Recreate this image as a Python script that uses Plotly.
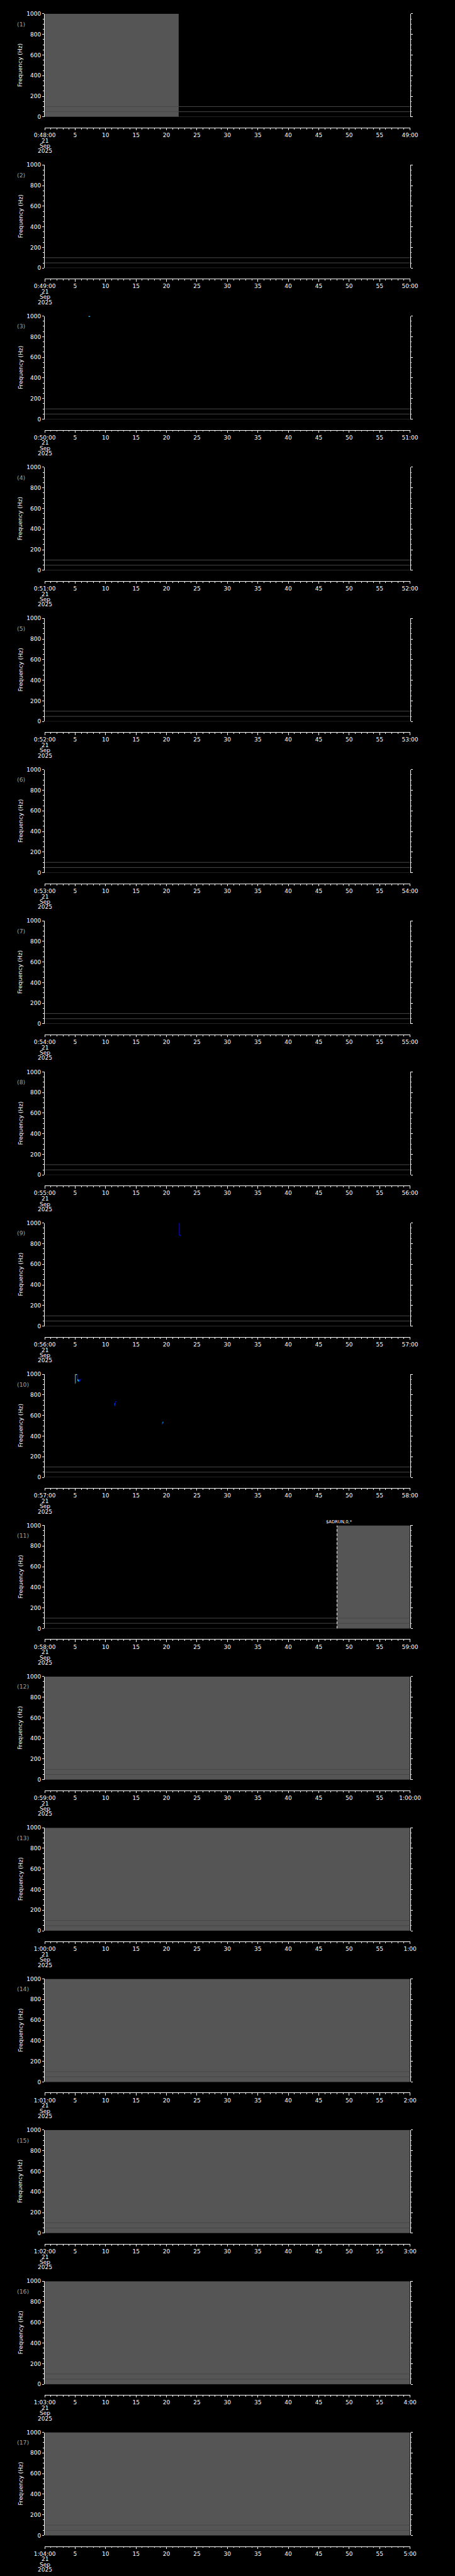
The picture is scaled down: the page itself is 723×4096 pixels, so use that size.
import plotly.graph_objects as go

# ---------------- data ----------------
N_PANELS = 17
panel_starts = ["0:48:00", "0:49:00", "0:50:00", "0:51:00", "0:52:00", "0:53:00",
                "0:54:00", "0:55:00", "0:56:00", "0:57:00", "0:58:00", "0:59:00",
                "1:00:00", "1:01:00", "1:02:00", "1:03:00", "1:04:00"]
panel_ends = ["49:00", "50:00", "51:00", "52:00", "53:00", "54:00", "55:00", "56:00",
              "57:00", "58:00", "59:00", "1:00:00", "1:00", "2:00", "3:00", "4:00", "5:00"]
mid_tick_secs = [5, 10, 15, 20, 25, 30, 35, 40, 45, 50, 55]
date_lines = ["21", "Sep", "2025"]
freq_range = [0, 1000]
ref_lines_hz = [0, 50, 100]

# grey coverage blocks: panel number, start second, end second
cov_panel = [1, 11, 12, 13, 14, 15, 16, 17]
cov_start = [0, 48, 0, 0, 0, 0, 0, 0]
cov_end = [22.0, 60, 60, 60, 60, 60, 60, 60]

# event marker
event_panel = 11
event_time = 48.0
event_label = "$ADRUN,0,*"
event_label_time = 46.0

# pitch-track segments: panel, t0, f0, t1, f1, colour, width
seg_panel = [3, 3,
             9, 9, 9,
             10, 10, 10, 10, 10, 10, 10, 10, 10, 10, 10, 10,
             10, 10, 10, 10, 10,
             10, 10, 10, 10]
seg_t0 = [7.21, 7.40,
          22.08, 22.12, 22.12,
          5.02, 5.02, 5.10, 5.27, 5.41, 5.41, 5.45, 5.45, 5.56, 5.73, 5.73, 5.00,
          11.47, 11.49, 11.49, 11.60, 11.60,
          19.27, 19.30, 19.30, 19.38]
seg_f0 = [997, 997,
          1000, 1000, 880,
          912, 999, 999, 999, 999, 950, 950, 936, 932, 932, 950, 912,
          695, 695, 718, 718, 735,
          515, 515, 530, 533]
seg_t1 = [7.40, 7.53,
          22.12, 22.12, 22.31,
          5.02, 5.10, 5.27, 5.41, 5.41, 5.45, 5.45, 5.56, 5.73, 5.73, 5.96, 5.04,
          11.49, 11.49, 11.60, 11.60, 11.78,
          19.30, 19.30, 19.38, 19.47]
seg_f1 = [997, 997,
          1000, 880, 880,
          999, 999, 999, 999, 950, 950, 936, 936, 932, 950, 950, 912,
          695, 718, 718, 735, 735,
          515, 530, 533, 533]
seg_color = ["#30e0f0", "#0030ff",
             "#0000ff", "#0000ff", "#0000ff",
             "#00b8ff", "#00d0ff", "#d8ff30", "#0030ff", "#0000ff", "#00e8ff", "#00e8ff",
             "#00ffff", "#0040ff", "#0000ff", "#0000d0", "#00b8ff",
             "#0040ff", "#0040ff", "#0030ff", "#0000ff", "#0000d0",
             "#0030ff", "#0030ff", "#0030ff", "#00c8ff"]
seg_width = [2, 1.5,
             1.2, 1.2, 1.5,
             1.2, 1.5, 2, 1.2, 1.2, 1.5, 1.5, 2, 1.5, 1.2, 1.2, 2.5,
             2, 1.2, 1.2, 1.2, 1.2,
             2, 1.2, 1.2, 2.5]

# ---------------- geometry (reference pixels -> paper) ----------------
REF_W, REF_H = 1024.0, 5802.0
W, H = 723, 4096
P = REF_H / N_PANELS
X_LEFT, X_RIGHT = 80.5, 944.5
Y_TOP, Y_BOT, X_AXIS_Y = 24.0, 256.8, 281.0


def py(ref_y):
    return 1 - ref_y / REF_H


def px(ref_x):
    return ref_x / REF_W


FONT = "DejaVu Sans"
GREY_FILL = "#555555"
LINE_GREY = "#474747"

fig = go.Figure()
layout = dict(
    width=W, height=H, autosize=False,
    margin=dict(l=0, r=0, t=0, b=0, pad=0),
    paper_bgcolor="black", plot_bgcolor="black",
    showlegend=False,
    font=dict(family=FONT, color="white", size=9),
)
annotations = []

for i in range(N_PANELS):
    n = i + 1
    xa = "x" if n == 1 else f"x{n}"
    ya = "y" if n == 1 else f"y{n}"
    xkey = "xaxis" if n == 1 else f"xaxis{n}"
    ykey = "yaxis" if n == 1 else f"yaxis{n}"
    top = i * P

    # coverage blocks
    for pn, t0, t1 in zip(cov_panel, cov_start, cov_end):
        if pn == n:
            fig.add_trace(go.Scatter(
                x=[t0, t1, t1, t0, t0], y=[freq_range[0], freq_range[0], freq_range[1], freq_range[1], freq_range[0]],
                fill="toself", fillcolor=GREY_FILL, line=dict(width=0), mode="lines",
                xaxis=xa, yaxis=ya, hoverinfo="skip"))
    # reference lines
    for f in ref_lines_hz:
        fig.add_trace(go.Scatter(x=[0, 60], y=[f, f], mode="lines",
                                 line=dict(color=LINE_GREY, width=1),
                                 xaxis=xa, yaxis=ya, hoverinfo="skip"))
    # event
    if n == event_panel:
        fig.add_trace(go.Scatter(x=[event_time, event_time], y=[freq_range[0], freq_range[1]],
                                 mode="lines", line=dict(color="white", width=1, dash="4px,3px"),
                                 xaxis=xa, yaxis=ya, hoverinfo="skip"))
        annotations.append(dict(text=event_label, xref=xa, yref="paper", x=event_label_time,
                                y=py(top + 15.8), xanchor="left", yanchor="middle", showarrow=False,
                                font=dict(family=FONT, size=6.8, color="white")))
    # tracks
    for pn, t0, f0, t1, f1, c, w in zip(seg_panel, seg_t0, seg_f0, seg_t1, seg_f1, seg_color, seg_width):
        if pn == n:
            fig.add_trace(go.Scatter(x=[t0, t1], y=[f0, f1], mode="lines",
                                     line=dict(color=c, width=w),
                                     xaxis=xa, yaxis=ya, hoverinfo="skip"))

    layout[xkey] = dict(
        domain=[px(X_LEFT), px(X_RIGHT)], range=[0, 60],
        anchor="free", position=py(top + X_AXIS_Y),
        showgrid=False, zeroline=False, showline=True, linecolor="white", linewidth=1,
        ticks="outside", ticklen=3.3, tickwidth=1, tickcolor="white",
        tickmode="array", tickvals=[0] + mid_tick_secs + [60],
        ticktext=[panel_starts[i]] + [str(s) for s in mid_tick_secs] + [panel_ends[i]],
        tickfont=dict(family=FONT, size=9, color="white"),
        minor=dict(tickmode="linear", tick0=0, dtick=1, ticks="outside", ticklen=1.9,
                   tickwidth=1, tickcolor="white"),
        fixedrange=True,
    )
    layout[ykey] = dict(
        domain=[py(top + Y_BOT), py(top + Y_TOP)], range=freq_range, anchor=xa,
        showgrid=False, zeroline=False, showline=True, linecolor="white", linewidth=1,
        mirror="ticks",
        ticks="outside", ticklen=3.1, tickwidth=1, tickcolor="white",
        tickmode="linear", tick0=0, dtick=200,
        tickfont=dict(family=FONT, size=9, color="white"),
        minor=dict(tickmode="linear", tick0=0, dtick=50, ticks="outside", ticklen=1.6,
                   tickwidth=1, tickcolor="white"),
        fixedrange=True,
    )
    # panel label
    annotations.append(dict(text=f"({n})", xref="paper", yref="paper", x=px(11.7), y=py(top + 47),
                            xanchor="left", yanchor="middle", showarrow=False,
                            font=dict(family=FONT, size=9.3, color="#a0a0a0")))
    # y title
    annotations.append(dict(text="Frequency (Hz)", xref="paper", yref="paper", x=px(22.7),
                            y=py(top + (Y_TOP + Y_BOT) / 2), textangle=-90,
                            xanchor="center", yanchor="middle", showarrow=False,
                            font=dict(family=FONT, size=9.2, color="white")))
    # date stack under first tick
    for k, txt in enumerate(date_lines):
        annotations.append(dict(text=txt, xref=xa, yref="paper", x=0, y=py(top + 310.6 + 11.8 * k),
                                xanchor="center", yanchor="middle", showarrow=False,
                                font=dict(family=FONT, size=9, color="white")))

layout["annotations"] = annotations
fig.update_layout(**layout)
fig.write_html("out.html", config={"displayModeBar": False, "staticPlot": True},
               post_script="document.body.style.margin='0';")
